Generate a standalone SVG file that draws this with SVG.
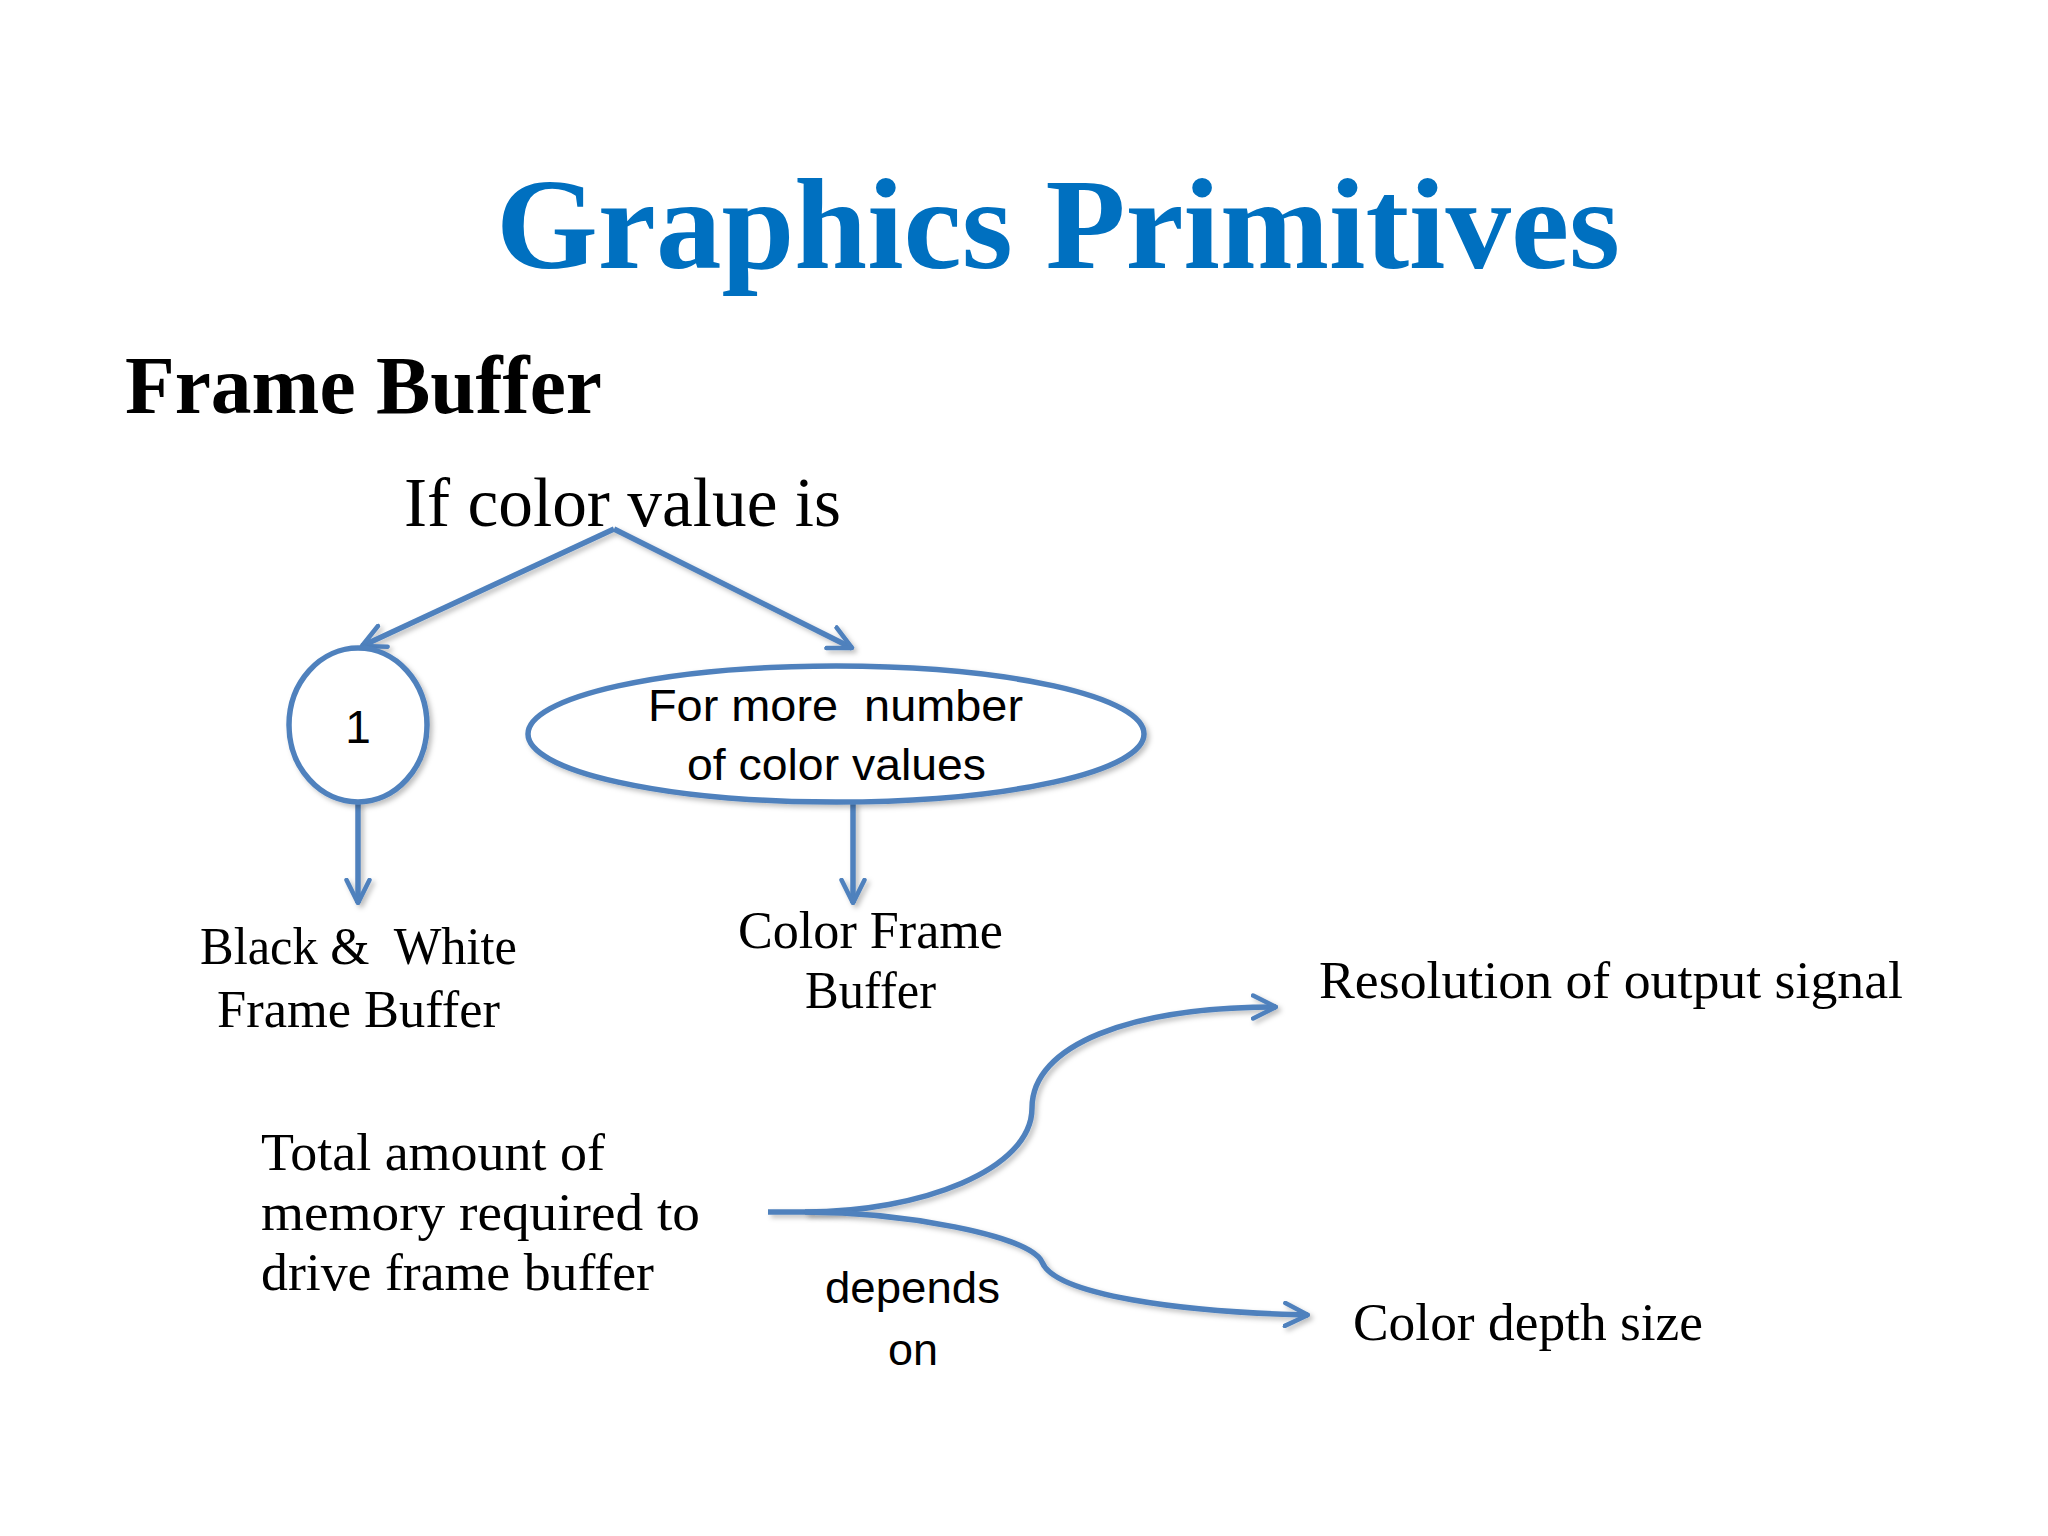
<svg xmlns="http://www.w3.org/2000/svg" width="2048" height="1536" viewBox="0 0 2048 1536">
<defs>
<style>
.serif{font-family:"Liberation Serif","DejaVu Serif",serif;fill:#000;white-space:pre}
.sans{font-family:"Liberation Sans","DejaVu Sans",sans-serif;fill:#000;white-space:pre}
.ln{fill:none;stroke:#4F81BD;stroke-width:5.5;filter:url(#sh)}
.shape{fill:#fff;stroke:#4F81BD;stroke-width:5.5;filter:url(#sh)}
</style>
<filter id="sh" filterUnits="userSpaceOnUse" x="0" y="0" width="2048" height="1536">
<feDropShadow dx="3" dy="3" stdDeviation="2.5" flood-color="#000" flood-opacity="0.25"/>
</filter>
<marker id="arr" viewBox="0 0 12 12" refX="11" refY="6" markerWidth="5" markerHeight="5" orient="auto" markerUnits="strokeWidth">
<path d="M1,1 L11,6 L1,11" fill="none" stroke="#4F81BD" stroke-width="2" stroke-linecap="round" stroke-linejoin="round"/>
</marker>
</defs>
<rect width="2048" height="1536" fill="#fff"/>
<text class="serif" x="496" y="268" font-size="130" font-weight="bold" style="fill:#0070C0" textLength="1124" lengthAdjust="spacingAndGlyphs">Graphics Primitives</text>
<text class="serif" x="125" y="413" font-size="82" font-weight="bold" textLength="477" lengthAdjust="spacingAndGlyphs">Frame Buffer</text>
<g id="root"><text class="serif" x="404" y="526" font-size="70" textLength="437" lengthAdjust="spacingAndGlyphs">If color value is</text></g>
<g id="connectors">
<path class="ln" d="M614,529 L362,646" marker-end="url(#arr)"/>
<path class="ln" d="M614,529 L852,648" marker-end="url(#arr)"/>
<path class="ln" d="M358,802 L358,903" marker-end="url(#arr)"/>
<path class="ln" d="M853,802 L853,903" marker-end="url(#arr)"/>
<path class="ln" d="M768,1212 L805,1212 C920,1212 1032,1170 1032,1108 C1032,1045 1130,1007 1276,1007" marker-end="url(#arr)"/>
<path class="ln" d="M805,1212 C900,1212 1030,1235 1042,1262 C1055,1295 1180,1312 1308,1315" marker-end="url(#arr)"/>
</g>
<g id="node-one">
<ellipse class="shape" cx="358" cy="725" rx="69" ry="77"/>
<text class="sans" x="358" y="743" font-size="46" text-anchor="middle">1</text>
</g>
<g id="node-more">
<ellipse class="shape" cx="836" cy="734" rx="308" ry="68"/>
<text class="sans" x="648" y="721" font-size="44" textLength="375" lengthAdjust="spacingAndGlyphs" xml:space="preserve">For more  number</text>
<text class="sans" x="687" y="780" font-size="44" textLength="299" lengthAdjust="spacingAndGlyphs">of color values</text>
</g>
<g id="node-bw">
<text class="serif" x="200" y="964" font-size="52" textLength="317" lengthAdjust="spacingAndGlyphs" xml:space="preserve">Black &amp;  White</text>
<text class="serif" x="217" y="1027" font-size="52" textLength="283" lengthAdjust="spacingAndGlyphs">Frame Buffer</text>
</g>
<g id="node-color">
<text class="serif" x="738" y="948" font-size="52" textLength="265" lengthAdjust="spacingAndGlyphs">Color Frame</text>
<text class="serif" x="805" y="1008" font-size="52" textLength="131" lengthAdjust="spacingAndGlyphs">Buffer</text>
</g>
<g id="node-total">
<text class="serif" x="261" y="1170" font-size="52" textLength="344" lengthAdjust="spacingAndGlyphs">Total amount of</text>
<text class="serif" x="261" y="1230" font-size="52" textLength="439" lengthAdjust="spacingAndGlyphs">memory required to</text>
<text class="serif" x="261" y="1290" font-size="52" textLength="393" lengthAdjust="spacingAndGlyphs">drive frame buffer</text>
</g>
<g id="node-depends">
<text class="sans" x="825" y="1303" font-size="44" textLength="175" lengthAdjust="spacingAndGlyphs">depends</text>
<text class="sans" x="888" y="1365" font-size="44" textLength="50" lengthAdjust="spacingAndGlyphs">on</text>
</g>
<g id="node-resolution">
<text class="serif" x="1319" y="998" font-size="52" textLength="584" lengthAdjust="spacingAndGlyphs">Resolution of output signal</text>
</g>
<g id="node-depth">
<text class="serif" x="1353" y="1340" font-size="52" textLength="350" lengthAdjust="spacingAndGlyphs">Color depth size</text>
</g>
</svg>
